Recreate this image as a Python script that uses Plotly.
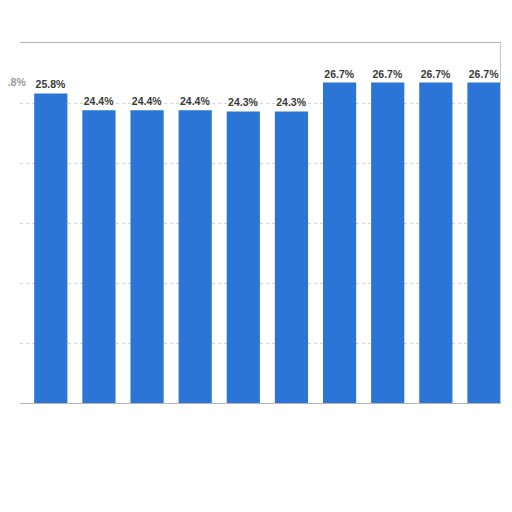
import plotly.graph_objects as go

# values (first bar is cut off at the left edge)
categories = ["c0", "c1", "c2", "c3", "c4", "c5", "c6", "c7", "c8", "c9", "c10"]
shares = [25.8, 25.8, 24.4, 24.4, 24.4, 24.3, 24.3, 26.7, 26.7, 26.7, 26.7]
labels = [f"{v:.1f}%" for v in shares]

BAR_BLUE = "#2a75d6"
LABEL_FONT = dict(family="Liberation Sans", size=10.5, color="#3a3a3a", weight="bold")

fig = go.Figure(
    go.Bar(
        x=categories,
        y=shares,
        text=labels,
        textposition="outside",
        textfont=LABEL_FONT,
        marker=dict(color=BAR_BLUE, line=dict(width=0)),
        cliponaxis=False,
        hoverinfo="skip",
    )
)

# label of the clipped first bar still peeks in at the left edge
fig.add_annotation(
    xref="paper", x=0, xshift=-9, xanchor="center",
    y=shares[0], yanchor="bottom", yshift=3,
    text=labels[0], showarrow=False,
    font=dict(family="Liberation Sans", size=10.5, color="#9a9a9a", weight="bold"),
)

# page body adds an 8px offset, so the figure is sized to the visible area
fig.update_layout(
    width=504,
    height=504,
    margin=dict(l=12, r=12, t=35, b=109),
    paper_bgcolor="white",
    plot_bgcolor="white",
    bargap=0.31,
    showlegend=False,
    font=dict(family="Liberation Sans"),
)

fig.update_xaxes(
    range=[0.36, 10.333],
    showticklabels=False,
    ticks="",
    showgrid=False,
    showline=True,
    linecolor="#b5b5b5",
    linewidth=1,
    mirror=True,
)

fig.update_yaxes(
    range=[0, 30],
    dtick=5,
    showticklabels=False,
    ticks="",
    showgrid=True,
    gridcolor="#d4d4d4",
    griddash="dot",
    zeroline=False,
    showline=True,
    side="right",
    linecolor="#c8c8c8",
    linewidth=1,
)

fig.write_html("out.html")
